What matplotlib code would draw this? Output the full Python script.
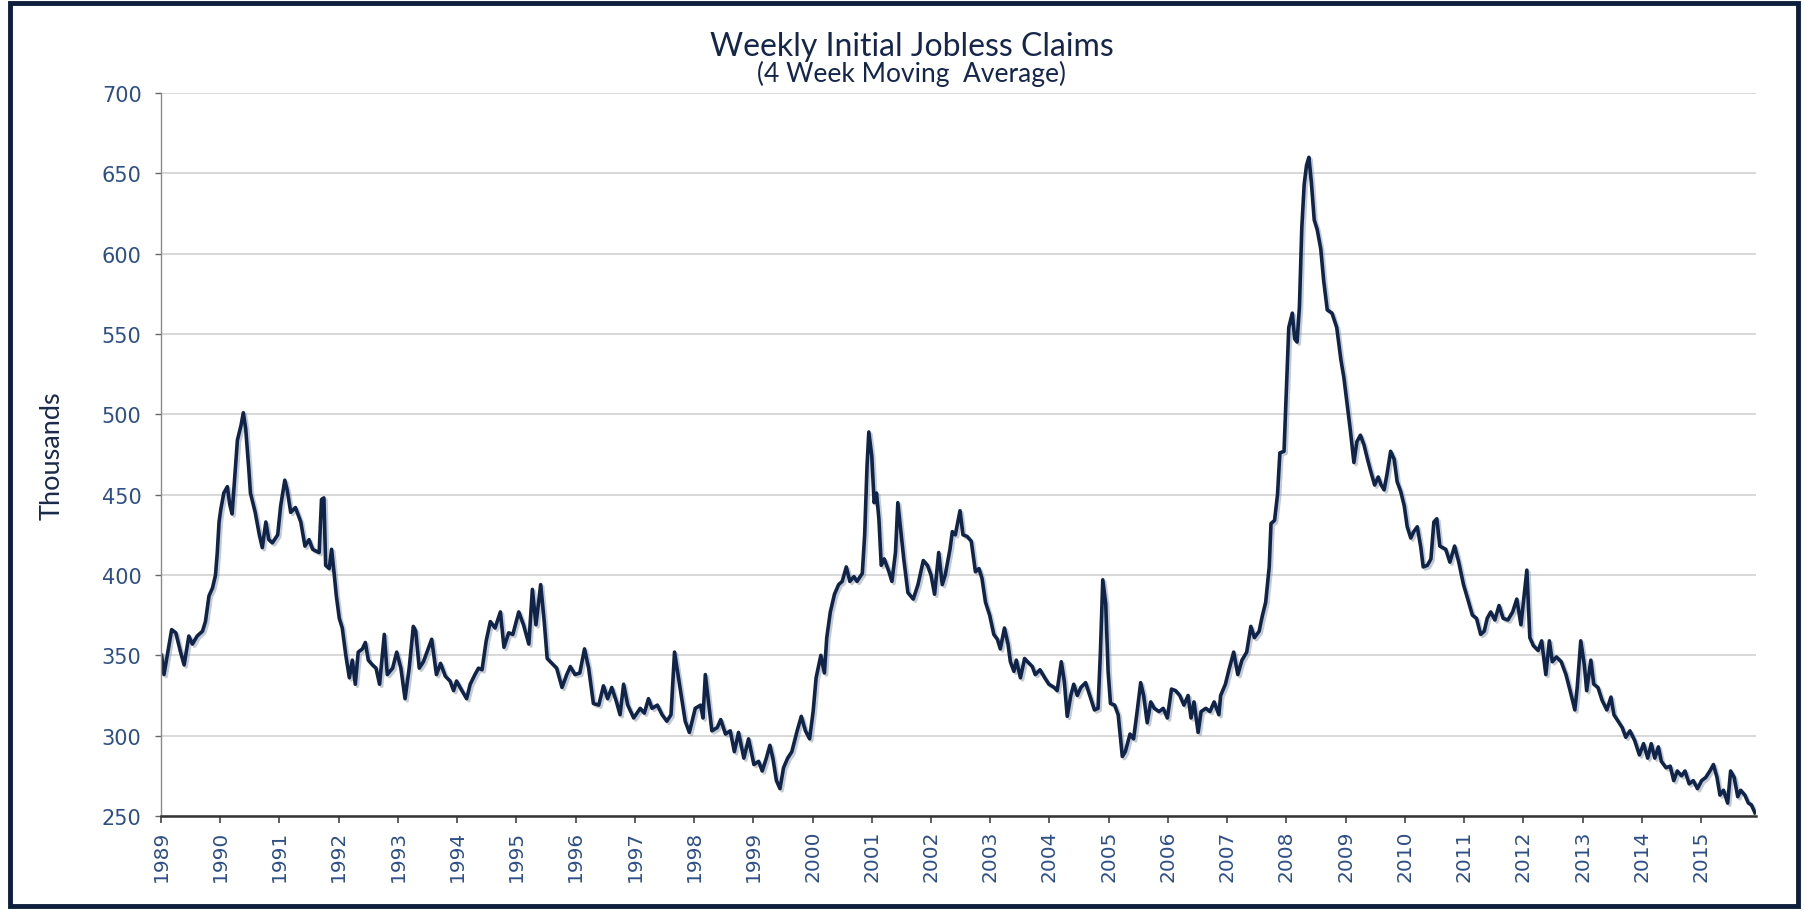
import matplotlib
matplotlib.use("Agg")
import matplotlib.pyplot as plt
import matplotlib.patheffects as pe
from matplotlib.patches import Rectangle
import numpy as np

plt.rcParams['font.family'] = ['Lato', 'DejaVu Sans']

# weekly claims, 4 week moving average (thousands)
# x values are decimal years as placed on the chart's axis
t_1989 = [1989.01, 1989.05, 1989.18, 1989.25, 1989.33, 1989.39, 1989.47, 1989.53,
          1989.61, 1989.70, 1989.75, 1989.81, 1989.87, 1989.92, 1989.95, 1989.98,
          1990.01, 1990.06, 1990.12, 1990.16, 1990.20, 1990.25, 1990.29, 1990.35,
          1990.39, 1990.43, 1990.48, 1990.51, 1990.59, 1990.66, 1990.71, 1990.77,
          1990.82, 1990.88, 1990.97, 1991.02, 1991.09, 1991.13, 1991.19, 1991.27,
          1991.36, 1991.43, 1991.50, 1991.56, 1991.61, 1991.67, 1991.71, 1991.75,
          1991.78, 1991.84, 1991.88, 1991.92, 1991.96, 1992.01, 1992.06, 1992.12,
          1992.18, 1992.23, 1992.28, 1992.33, 1992.40, 1992.45, 1992.50, 1992.57,
          1992.63, 1992.69, 1992.77, 1992.82, 1992.91, 1992.98, 1993.05, 1993.12,
          1993.19, 1993.26, 1993.30, 1993.36]
v_1989 = [350, 338, 366, 364, 352, 344, 362, 357,
          362, 365, 371, 387, 392, 400, 414, 433,
          441, 451, 455, 444, 438, 464, 484, 493,
          501, 491, 467, 451, 439, 425, 417, 433,
          422, 420, 425, 443, 459, 453, 439, 442,
          433, 418, 422, 416, 415, 414, 447, 448,
          406, 404, 416, 402, 387, 373, 367, 350,
          336, 347, 332, 352, 354, 358, 347, 344,
          342, 332, 363, 338, 342, 352, 342, 323,
          342, 368, 365, 342]

t_1993 = [1993.43, 1993.57, 1993.65, 1993.72, 1993.80, 1993.88, 1993.94, 1993.99,
          1994.08, 1994.16, 1994.22, 1994.30, 1994.36, 1994.42, 1994.49, 1994.56,
          1994.64, 1994.73, 1994.79, 1994.87, 1994.94, 1995.04, 1995.12, 1995.21,
          1995.27, 1995.33, 1995.41, 1995.47, 1995.52, 1995.60, 1995.68, 1995.77,
          1995.85, 1995.91, 1995.99, 1996.07, 1996.15, 1996.22, 1996.30, 1996.39,
          1996.47, 1996.54, 1996.61, 1996.69, 1996.75, 1996.81, 1996.88, 1996.98,
          1997.09, 1997.16, 1997.23, 1997.29, 1997.38, 1997.46, 1997.54, 1997.61,
          1997.67, 1997.72, 1997.78, 1997.85, 1997.92]
v_1993 = [346, 360, 338, 345, 337, 334, 328, 334,
          328, 323, 332, 338, 342, 341, 359, 371,
          367, 377, 355, 364, 363, 377, 369, 357,
          391, 369, 394, 371, 348, 345, 342, 330,
          338, 343, 338, 339, 354, 342, 320, 319,
          331, 323, 330, 321, 313, 332, 319, 311,
          317, 314, 323, 317, 319, 313, 309, 313,
          352, 340, 326, 309, 302]

t_1998 = [1998.02, 1998.11, 1998.15, 1998.19, 1998.25, 1998.30, 1998.39, 1998.45,
          1998.53, 1998.61, 1998.68, 1998.75, 1998.84, 1998.92, 1999.01, 1999.09,
          1999.15, 1999.22, 1999.28, 1999.33, 1999.39, 1999.45, 1999.51, 1999.58,
          1999.65, 1999.74, 1999.81, 1999.88, 1999.95, 2000.01, 2000.06, 2000.14,
          2000.20, 2000.24, 2000.30, 2000.37, 2000.44, 2000.50, 2000.57, 2000.63,
          2000.70, 2000.75, 2000.84, 2000.88, 2000.92, 2000.95, 2001.00, 2001.04,
          2001.08, 2001.12, 2001.16, 2001.21, 2001.29, 2001.34, 2001.40, 2001.44,
          2001.48, 2001.54, 2001.61, 2001.70, 2001.78, 2001.87, 2001.94, 2002.00,
          2002.06, 2002.13, 2002.19, 2002.24]
v_1998 = [317, 319, 311, 338, 319, 303, 305, 310,
          301, 303, 290, 302, 286, 298, 282, 284,
          278, 286, 294, 286, 272, 267, 280, 286,
          290, 303, 312, 303, 298, 315, 336, 350,
          339, 361, 377, 388, 394, 396, 405, 396,
          399, 396, 401, 425, 468, 489, 474, 445,
          451, 435, 406, 410, 402, 396, 414, 445,
          431, 410, 389, 385, 394, 409, 406, 400,
          388, 414, 394, 400]

t_2002 = [2002.32, 2002.36, 2002.41, 2002.49, 2002.54, 2002.61, 2002.68, 2002.75,
          2002.81, 2002.86, 2002.92, 2002.99, 2003.06, 2003.12, 2003.17, 2003.24,
          2003.30, 2003.34, 2003.40, 2003.44, 2003.51, 2003.58, 2003.63, 2003.71,
          2003.76, 2003.84, 2003.92, 2003.99, 2004.08, 2004.13, 2004.20, 2004.25,
          2004.30, 2004.36, 2004.41, 2004.47, 2004.53, 2004.61, 2004.68, 2004.76,
          2004.82, 2004.86, 2004.90, 2004.95, 2004.99, 2005.03, 2005.10, 2005.16,
          2005.23, 2005.28, 2005.36, 2005.42, 2005.48, 2005.54, 2005.59, 2005.65,
          2005.71, 2005.77, 2005.85, 2005.92, 2005.99, 2006.06, 2006.13, 2006.20,
          2006.27, 2006.34, 2006.39, 2006.44, 2006.51, 2006.56, 2006.64, 2006.71,
          2006.78, 2006.86]
v_2002 = [416, 427, 425, 440, 425, 424, 421, 402,
          404, 398, 383, 375, 363, 360, 354, 367,
          357, 346, 340, 347, 336, 348, 346, 343,
          338, 341, 336, 332, 330, 328, 346, 334,
          312, 325, 332, 325, 330, 333, 325, 316,
          317, 352, 397, 382, 340, 320, 319, 313,
          287, 290, 301, 298, 315, 333, 325, 308,
          321, 317, 315, 317, 311, 329, 328, 325,
          319, 325, 311, 321, 302, 315, 317, 315,
          321, 313]

t_2007 = [2006.89, 2006.97, 2007.03, 2007.11, 2007.18, 2007.25, 2007.33, 2007.40,
          2007.46, 2007.54, 2007.59, 2007.65, 2007.71, 2007.74, 2007.80, 2007.85,
          2007.89, 2007.96, 2008.00, 2008.04, 2008.10, 2008.14, 2008.18, 2008.22,
          2008.26, 2008.30, 2008.34, 2008.38, 2008.42, 2008.47, 2008.52, 2008.58,
          2008.63, 2008.69, 2008.77, 2008.85, 2008.92, 2008.97, 2009.03, 2009.08,
          2009.14, 2009.19, 2009.25, 2009.31, 2009.37, 2009.42, 2009.49, 2009.55,
          2009.60, 2009.65, 2009.70, 2009.76, 2009.82, 2009.87, 2009.93, 2009.99,
          2010.04, 2010.10, 2010.15, 2010.21, 2010.27, 2010.31, 2010.38, 2010.44]
v_2007 = [325, 332, 341, 352, 338, 347, 352, 368,
          361, 365, 374, 383, 405, 432, 434, 450,
          476, 477, 516, 554, 563, 547, 545, 567,
          616, 643, 655, 660, 645, 621, 615, 603,
          583, 565, 563, 554, 534, 523, 505, 490,
          470, 483, 487, 481, 472, 465, 456, 461,
          456, 453, 463, 477, 472, 458, 452, 443,
          430, 423, 427, 430, 417, 405, 406, 410]

t_2010 = [2010.49, 2010.54, 2010.59, 2010.69, 2010.76, 2010.84, 2010.91, 2010.99,
          2011.07, 2011.14, 2011.21, 2011.28, 2011.34, 2011.39, 2011.45, 2011.52,
          2011.59, 2011.66, 2011.74, 2011.82, 2011.89, 2011.96, 2012.01, 2012.06,
          2012.11, 2012.17, 2012.25, 2012.31, 2012.38, 2012.44, 2012.49, 2012.56,
          2012.64, 2012.72, 2012.79, 2012.87, 2012.91, 2012.97, 2013.03, 2013.07,
          2013.14, 2013.19, 2013.26, 2013.33, 2013.41, 2013.48, 2013.53, 2013.60,
          2013.67, 2013.73, 2013.80, 2013.88, 2013.96, 2014.03, 2014.10, 2014.16,
          2014.22, 2014.28, 2014.33, 2014.41, 2014.48, 2014.54, 2014.60, 2014.67,
          2014.73, 2014.80, 2014.87, 2014.94, 2015.01, 2015.08, 2015.15, 2015.21,
          2015.27, 2015.32, 2015.38, 2015.45, 2015.50, 2015.56, 2015.62, 2015.67,
          2015.74, 2015.80, 2015.85, 2015.91]
v_2010 = [433, 435, 418, 416, 408, 418, 408, 394,
          384, 375, 373, 363, 365, 373, 377, 372,
          381, 373, 372, 377, 385, 369, 386, 403,
          361, 356, 353, 359, 338, 359, 346, 349,
          346, 338, 328, 316, 330, 359, 344, 328,
          347, 332, 330, 322, 316, 324, 313, 309,
          305, 299, 303, 297, 288, 295, 286, 295,
          286, 293, 284, 280, 281, 272, 278, 275,
          278, 270, 272, 267, 272, 274, 278, 282,
          274, 263, 266, 258, 278, 274, 262, 266,
          263, 258, 257, 252]

years = np.array(t_1989 + t_1993 + t_1998 + t_2002 + t_2007 + t_2010)
claims = np.array(v_1989 + v_1993 + v_1998 + v_2002 + v_2007 + v_2010)

year_ticks = list(range(1989, 2016))
y_ticks = [250, 300, 350, 400, 450, 500, 550, 600, 650, 700]

navy = '#10244a'
tick_blue = '#2e4f86'

fig = plt.figure(figsize=(18.05, 9.12), dpi=100)
ax = fig.add_axes([0.0892, 0.1042, 0.8837, 0.7927])

ax.plot(years, claims, color=navy, lw=2.6, solid_joinstyle='round',
        path_effects=[pe.SimpleLineShadow(offset=(1.5, -1.5), shadow_color='#7f8c99', alpha=0.45),
                      pe.Normal()])

ax.set_xlim(1989, 2015.93)
ax.set_ylim(250, 700)
ax.set_yticks(y_ticks)
ax.set_xticks(year_ticks)
ax.set_xticklabels([str(y) for y in year_ticks], rotation=90)
ax.tick_params(axis='x', colors='#444444', labelcolor=tick_blue, labelsize=14.5,
               labelfontfamily='DejaVu Sans', length=5, width=1.2, pad=5)
ax.tick_params(axis='y', colors='#666666', labelcolor=tick_blue, labelsize=15,
               labelfontfamily='DejaVu Sans', length=4, width=1, pad=10)

ax.grid(axis='y', color='#d6d6d6', lw=1.3)
ax.set_axisbelow(True)
for side in ['top', 'right']:
    ax.spines[side].set_visible(False)
ax.spines['left'].set_color('#8a8a8a')
ax.spines['left'].set_linewidth(1.0)
ax.spines['bottom'].set_color('#333333')
ax.spines['bottom'].set_linewidth(1.8)

fig.text(0.029, 0.5, 'Thousands', rotation=90, ha='center', va='center',
         fontsize=19.5, color='#1b2a4a')

fig.text(0.505, 0.949, 'Weekly Initial Jobless Claims', ha='center', va='center',
         fontsize=23, color='#15264a')
fig.text(0.505, 0.919, '(4 Week Moving  Average)', ha='center', va='center',
         fontsize=19, color='#15264a')

# frame around the whole picture
fig.patches.append(Rectangle((0.0055, 0.006), 0.9905, 0.9895, transform=fig.transFigure,
                             fill=False, edgecolor='#0d1f3c', lw=3.5))

fig.savefig('out.png', dpi=100, facecolor='white')
